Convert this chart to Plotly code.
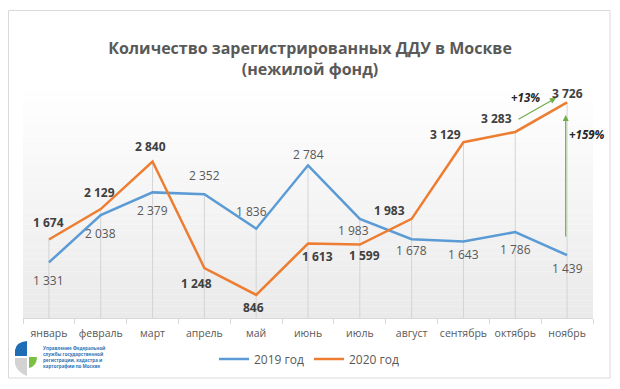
import plotly.graph_objects as go

# ---------------- data ----------------
months = ["январь", "февраль", "март", "апрель", "май", "июнь",
          "июль", "август", "сентябрь", "октябрь", "ноябрь"]
month_labels = ["январь", "февраль", "март", "апрель", "май", "июнь",
                "июль", "август", "сентябрь", "октябрь", "ноябрь"]
values_2019 = [1331, 2038, 2379, 2352, 1836, 2784, 1983, 1678, 1643, 1786, 1439]
values_2020 = [1674, 2129, 2840, 1248, 846, 1613, 1599, 1983, 3129, 3283, 3726]
series_names = ["2019 год", "2020 год"]
title_text = "Количество зарегистрированных ДДУ в Москве<br>(нежилой фонд)"
growth_year = "+13%"
growth_total = "+159%"
logo_text = ("Управление Федеральной<br>службы государственной<br>"
             "регистрации, кадастра и<br>картографии по Москве")

# ---------------- style ----------------
FONT = "Open Sans"
OFF = 8                      # page body margin of the browser
W, H = 620 - OFF, 389 - OFF
PLOT_L, PLOT_R, PLOT_T, PLOT_B = 23, 593, 84, 318   # target page pixels
ML, MR = PLOT_L - OFF, W - (PLOT_R - OFF)
MT, MB = PLOT_T - OFF, H - (PLOT_B - OFF)
PW, PH = W - ML - MR, H - MT - MB
Y_MIN, Y_MAX = 500, 4000
BLUE, ORANGE, GREEN = "#5B9BD5", "#ED7D31", "#70AD47"

# label offsets in pixels (dx, dy) — positive dy is up
off_2019 = [(0, -18), (0, -18), (0, -18), (0, 19), (-5, 17), (0, 11),
            (-6, -12), (0, -11), (0, -13), (0, -17), (0, -13)]
off_2020 = [(0, 17), (-1, 17), (-2, 15), (-8, -16), (-3, -13), (9, -13),
            (5, -11), (-22, 8), (-18, 8), (-19, 13), (0, 9)]


def px(x):
    return (x - PLOT_L) / PW


def py(y):
    return (PLOT_B - y) / PH


def cy(y):
    return 1 - (y - OFF) / H


def fmt(v):
    return f"{v:,}".replace(",", " ")


fig = go.Figure()

# drop lines from the highest point of each month down to the axis
dx, dy = [], []
for m, a, b in zip(months, values_2019, values_2020):
    dx += [m, m, None]
    dy += [Y_MIN, max(a, b), None]
fig.add_trace(go.Scatter(x=dx, y=dy, mode="lines", showlegend=False,
                         line=dict(color="#d4d4d4", width=1), hoverinfo="skip"))

fig.add_trace(go.Scatter(x=months, y=values_2019, mode="lines", name=series_names[0],
                         line=dict(color=BLUE, width=2.5)))
fig.add_trace(go.Scatter(x=months, y=values_2020, mode="lines", name=series_names[1],
                         line=dict(color=ORANGE, width=2.5)))

annotations = []
for m, v, (ox, oy) in zip(months, values_2019, off_2019):
    annotations.append(dict(x=m, y=v, xshift=ox, yshift=oy, showarrow=False,
                            xanchor="center", yanchor="middle",
                            text=fmt(v), font=dict(family=FONT, size=12, color="#595959")))
for m, v, (ox, oy) in zip(months, values_2020, off_2020):
    annotations.append(dict(x=m, y=v, xshift=ox, yshift=oy, showarrow=False,
                            xanchor="center", yanchor="middle",
                            text="<b>" + fmt(v) + "</b>",
                            font=dict(family=FONT, size=12, color="#404040")))

# green growth arrows
annotations.append(dict(xref="paper", yref="paper", x=px(556), y=py(98),
                        ax=-39, ay=22, showarrow=True, arrowhead=2, arrowsize=1,
                        arrowwidth=1.2, arrowcolor=GREEN, text=""))
annotations.append(dict(xref="paper", yref="paper", x=px(565.7), y=py(115),
                        ax=0, ay=123, showarrow=True, arrowhead=2, arrowsize=1,
                        arrowwidth=1.2, arrowcolor=GREEN, text=""))
annotations.append(dict(xref="paper", yref="paper", x=px(525), y=py(97),
                        xanchor="center", yanchor="middle",
                        showarrow=False, text="<b><i>" + growth_year + "</i></b>",
                        font=dict(family=FONT, size=11.5, color="#262626")))
annotations.append(dict(xref="paper", yref="paper", x=px(587), y=py(134),
                        xanchor="center", yanchor="middle",
                        showarrow=False, text="<b><i>" + growth_total + "</i></b>",
                        font=dict(family=FONT, size=11.5, color="#262626")))
# logo text
annotations.append(dict(xref="paper", yref="paper", x=px(41), y=py(357),
                        xanchor="left", yanchor="middle", align="left", showarrow=False,
                        text="<b>" + logo_text + "</b>",
                        font=dict(family=FONT, size=4.5, color="#2e75b6")))

shapes = []
# card border
shapes.append(dict(type="rect", xref="paper", yref="paper", x0=px(8.5), x1=px(610),
                   y0=py(378), y1=py(10.5), line=dict(color="#d9d9d9", width=1),
                   fillcolor="rgba(0,0,0,0)", layer="below"))
# plot-area vertical gradient
N = 40
for k in range(N):
    t = (k + 0.5) / N
    c = int(round(255 - (255 - 234) * t))
    shapes.append(dict(type="rect", xref="paper", yref="paper", x0=0, x1=1,
                       y0=1 - (k + 1) / N, y1=1 - k / N, line=dict(width=0),
                       fillcolor=f"rgb({c},{c},{c})", layer="below"))
# logo glyph
shapes.append(dict(type="path", xref="paper", yref="paper", layer="above",
                   path=f"M {px(15)},{py(356)} L {px(15)},{py(350)} Q {px(16)},{py(342)} {px(27)},{py(341)} L {px(27)},{py(356)} Z",
                   fillcolor="#1f6db5", line=dict(width=0)))
shapes.append(dict(type="path", xref="paper", yref="paper", layer="above",
                   path=f"M {px(29)},{py(357)} L {px(37)},{py(357)} Q {px(37)},{py(366)} {px(29)},{py(368)} Z",
                   fillcolor="#7ac143", line=dict(width=0)))
shapes.append(dict(type="path", xref="paper", yref="paper", layer="above",
                   path=f"M {px(15)},{py(358)} L {px(27)},{py(358)} L {px(27)},{py(376)} Q {px(17)},{py(372)} {px(15)},{py(364)} Z",
                   fillcolor="#d3d3d3", line=dict(width=0)))

fig.update_layout(
    width=W, height=H,
    margin=dict(l=ML, r=MR, t=MT, b=MB, autoexpand=False),
    paper_bgcolor="white", plot_bgcolor="white",
    font=dict(family=FONT, color="#595959"),
    title=dict(text="<b>" + title_text + "</b>", x=px(310), xref="paper", xanchor="center",
               yref="container", y=cy(54), yanchor="middle",
               font=dict(family=FONT, size=16, color="#595959")),
    showlegend=True,
    legend=dict(orientation="h", x=px(309), xanchor="center",
                yref="container", y=cy(359), yanchor="middle",
                font=dict(family=FONT, size=12, color="#595959"),
                itemwidth=30, bgcolor="rgba(0,0,0,0)"),
    xaxis=dict(type="category", range=[-0.5, 10.5], showgrid=False, showline=True,
               linecolor="#d9d9d9", linewidth=1, ticks="outside", tickson="boundaries",
               ticklen=5, tickcolor="#d9d9d9", tickvals=months, ticktext=month_labels,
               tickangle=0, automargin=False, ticklabelstandoff=5,
               tickfont=dict(family=FONT, size=10.5, color="#595959"), fixedrange=True),
    yaxis=dict(range=[Y_MIN, Y_MAX], showgrid=False, showticklabels=False,
               zeroline=False, showline=False, fixedrange=True, automargin=False),
    annotations=annotations,
    shapes=shapes,
    hovermode=False,
)

fig.write_html("out.html")
